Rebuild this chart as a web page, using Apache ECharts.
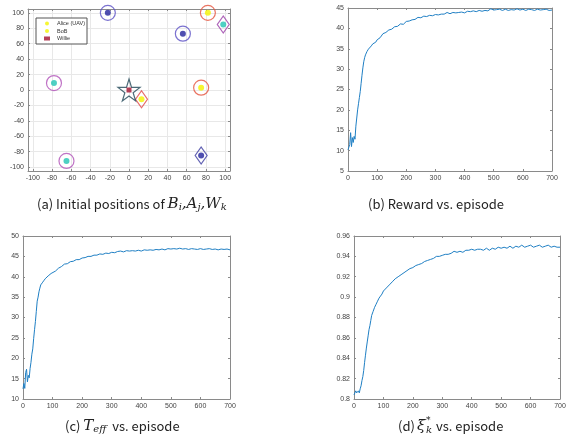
<!DOCTYPE html>
<html><head><meta charset="utf-8">
<script src="https://cdn.jsdelivr.net/npm/echarts@6/dist/echarts.min.js"></script>
<style>html,body{margin:0;padding:0;background:#fff}#c{width:571px;height:439px}</style>
</head><body><div id="c"></div>
<script>
// ---------- data ----------
const episodes = [0,3,6,9,12,15,18,21,24,27,30,33,36,39,42,45,48,51,54,57,60,
  65,70,75,80,85,90,95,100,
  110,120,130,140,150,160,170,180,190,200,210,220,230,240,250,260,270,280,290,300,
  310,320,330,340,350,360,370,380,390,400,410,420,430,440,450,460,470,480,490,500,
  510,520,530,540,550,560,570,580,590,600,610,620,630,640,650,660,670,680,690,700];

const rewardValues = [10.2,9.8,11.5,14.4,11.0,13.2,12.0,13.5,12.8,16.0,18.0,20.0,21.5,23.0,24.5,26.5,28.5,30.3,31.8,32.8,33.5,
  34.3,34.9,35.3,35.7,36.2,35.9,36.6,37.2,
  37.7,38.7,39.0,39.6,39.8,40.4,40.5,41.1,41.0,41.7,41.8,42.1,42.2,42.7,42.6,43.0,42.9,43.2,43.1,43.4,
  43.3,43.5,43.5,43.9,43.6,43.9,43.8,43.9,44.0,43.8,44.2,44.1,44.3,44.1,44.4,44.2,44.4,44.3,44.8,44.5,
  44.6,44.7,44.4,44.7,44.4,44.6,44.5,44.8,44.5,44.7,44.4,44.7,44.6,44.4,44.7,44.5,44.6,44.7,44.4,44.5];

const teffValues = [12.5,13.8,12.6,16.5,17.3,14.2,15.8,15.2,17.5,19.0,21.0,22.3,24.8,27.0,29.0,31.5,34.0,35.0,36.3,37.2,38.0,
  38.5,39.0,39.5,39.9,40.2,39.9,40.8,41.1,
  41.4,42.1,42.5,43.1,43.2,43.7,43.8,44.2,44.2,44.6,44.7,45.0,45.0,45.3,45.3,45.6,45.5,45.8,45.7,46.0,
  45.9,46.2,46.3,46.1,46.4,46.3,46.4,46.3,46.5,46.3,46.6,46.5,46.6,46.5,46.7,46.6,46.8,46.6,46.9,46.8,
  46.9,46.8,47.0,46.8,46.9,46.7,46.9,46.8,46.7,46.9,46.7,46.8,46.9,46.7,46.8,46.6,46.8,46.7,46.8,46.6];

const xiValues = [0.804,0.806,0.808,0.806,0.807,0.808,0.806,0.810,0.813,0.818,0.822,0.828,0.836,0.843,0.850,0.856,0.862,0.868,0.872,0.877,0.882,
  0.886,0.890,0.893,0.896,0.899,0.901,0.903,0.906,
  0.909,0.912,0.915,0.918,0.920,0.922,0.924,0.926,0.928,0.929,0.931,0.932,0.933,0.935,0.936,0.937,0.938,0.940,0.940,0.941,
  0.942,0.942,0.943,0.945,0.944,0.945,0.944,0.946,0.946,0.947,0.946,0.947,0.947,0.946,0.948,0.946,0.948,0.947,0.949,0.948,
  0.949,0.948,0.950,0.948,0.950,0.949,0.951,0.949,0.950,0.951,0.949,0.950,0.951,0.949,0.950,0.951,0.949,0.950,0.949,0.949];

// initial positions (panel a)
const alicePoints = [[13,-12]];
const bobPoints = [[82,100],[75,3]];
const williePoints = [[0,0]];
const bluePoints = [[-22,100],[56,73],[75,-85]];
const cyanPoints = [[98,85],[-78,9],[-65,-92]];
const blueRings = [[-22,100],[56,73]];
const redRings = [[82,100],[75,3]];
const magentaRings = [[-78,9],[-65,-92]];
const purpleDiamonds = [[98,85]];
const navyDiamonds = [[75,-85]];
const redDiamonds = [[13,-12]];
const starPoints = [[0,0]];

// ---------- chart ----------
const axisColor = '#8a8a8a';
const labelColor = '#444';
const tickFont = 'Liberation Sans';
const lineColor = '#1f7fc4';

function axes(kind, grid, min, max, interval, gridLines) {
  const base = {type:'value', gridIndex:grid, min:min, max:max};
  if (interval !== null) base.interval = interval; else base.splitNumber = 10;
  const line = {show:true, onZero:false, lineStyle:{color:axisColor, width:1}};
  const tick = {show:true, inside:true, length:2, lineStyle:{color:axisColor}};
  const main = Object.assign({}, base, {
    position: kind === 'x' ? 'bottom' : 'left',
    axisLine: line, axisTick: tick,
    axisLabel: {fontSize:7, color:labelColor, margin:4, fontFamily:tickFont,
      showMinLabel: interval !== null, showMaxLabel: interval !== null},
    splitLine: {show: !!gridLines, lineStyle:{color:'#e8e8e8', width:1}}
  });
  const opp = Object.assign({}, base, {
    position: kind === 'x' ? 'top' : 'right',
    axisLine: line, axisTick: tick, axisLabel:{show:false}, splitLine:{show:false}
  });
  return [main, opp];
}

const grids = [
  {left:28, top:9, width:202, height:162},
  {left:348, top:8, width:204, height:163},
  {left:23, top:236, width:207, height:163},
  {left:354, top:236, width:206, height:163}
];

const xAxes = [].concat(
  axes('x',0,-105,105,null,true),
  axes('x',1,0,700,100),
  axes('x',2,0,700,100),
  axes('x',3,0,700,100)
);
const yAxes = [].concat(
  axes('y',0,-105,105,null,true),
  axes('y',1,5,45,5),
  axes('y',2,10,50,5),
  axes('y',3,0.8,0.96,0.02)
);

function sc(name, data, opts) {
  return Object.assign({type:'scatter', name:name, xAxisIndex:0, yAxisIndex:0, data:data, z:3}, opts);
}
function ring(data, color, symbol, size) {
  return sc(undefined, data, {symbol:symbol, symbolSize:size, z:2,
    itemStyle:{color:'rgba(0,0,0,0)', borderColor:color, borderWidth:1.2}});
}
const starPath = 'path://M50,0 L61,35 L98,35 L68,57 L79,91 L50,70 L21,91 L32,57 L2,35 L39,35 Z';

function lineSeries(gi, values) {
  return {type:'line', xAxisIndex:gi*2, yAxisIndex:gi*2, showSymbol:false,
    data: episodes.map((e,i)=>[e, values[i]]),
    lineStyle:{color:lineColor, width:1}, itemStyle:{color:lineColor}};
}

const series = [
  ring(blueRings, '#5a4fc4', 'circle', 15),
  ring(redRings, '#e5533c', 'circle', 15),
  ring(magentaRings, '#b050b8', 'circle', 15),
  ring(purpleDiamonds, '#9a3fa8', 'diamond', [12,17]),
  ring(navyDiamonds, '#3c3ca0', 'diamond', [12,17]),
  ring(redDiamonds, '#e04848', 'diamond', [12,17]),
  sc(undefined, starPoints, {symbol:starPath, symbolSize:[22,22], z:2,
    itemStyle:{color:'rgba(0,0,0,0)', borderColor:'#1f4656', borderWidth:1.2}}),
  sc(undefined, bluePoints, {symbol:'circle', symbolSize:6, itemStyle:{color:'#23239c'}}),
  sc(undefined, cyanPoints, {symbol:'circle', symbolSize:6, itemStyle:{color:'#22c4b4'}}),
  sc('Alice (UAV)', alicePoints, {symbol:'circle', symbolSize:6, itemStyle:{color:'#f4f400'}}),
  sc('BoB', bobPoints, {symbol:'circle', symbolSize:6, itemStyle:{color:'#f4f400'}}),
  sc('Willie', williePoints, {symbol:'rect', symbolSize:5, itemStyle:{color:'#a3102e'}}),
  lineSeries(1, rewardValues),
  lineSeries(2, teffValues),
  lineSeries(3, xiValues)
];

const mainFont = '"Noto Sans CJK KR", "Noto Sans", sans-serif';
const serif = '"DejaVu Serif", serif';
const mathRich = {
  m:{fontFamily:serif, fontStyle:'italic', fontSize:15, color:'#222'},
  s:{fontFamily:serif, fontStyle:'italic', fontSize:10, color:'#222', verticalAlign:'bottom', padding:[6,0,0,0]},
  t:{fontFamily:mainFont, fontSize:13, color:'#222'}
};
function txt(x, y, text, font) {
  return {type:'text', x:x, y:y, silent:true,
    style:{text:text, rich:mathRich, font:font || ('13px ' + mainFont), fill:'#222',
      textAlign:'left', textVerticalAlign:'middle'}};
}

const option = {
  animation:false,
  backgroundColor:'#fff',
  grid: grids.map(g => Object.assign({show:false, containLabel:false}, g)),
  xAxis: xAxes,
  yAxis: yAxes,
  legend: {
    data:['Alice (UAV)','BoB','Willie'],
    orient:'vertical', left:36, top:18, selectedMode:false,
    itemWidth:6, itemHeight:4, itemGap:1.5,
    padding:[2.5,2,2.5,8],
    borderColor:'#555', borderWidth:1, backgroundColor:'#fff',
    textStyle:{fontSize:5.5, color:'#333', fontFamily:tickFont, padding:[0,0,0,2]}
  },
  series: series,
  graphic: [
    txt(37, 204, '{t|(a) Initial positions of }{m|B}{s|i}{m|,A}{s|j}{m|,W}{s|k}'),
    txt(368, 204, '{t|(b) Reward vs. episode}'),
    txt(65, 426, '{t|(c) }{m|T}{s|eff}{t|  vs. episode}'),
    txt(398, 426, '(d) '),
    txt(417, 426, 'ξ', 'italic 15px ' + serif),
    txt(426, 430, 'k', 'italic 10px ' + serif),
    txt(426, 421, '*', '9px ' + serif),
    txt(433, 426, ' vs. episode')
  ]
};

const chart = echarts.init(document.getElementById('c'), null, {renderer:'canvas'});
chart.setOption(option);
</script>
</body></html>
